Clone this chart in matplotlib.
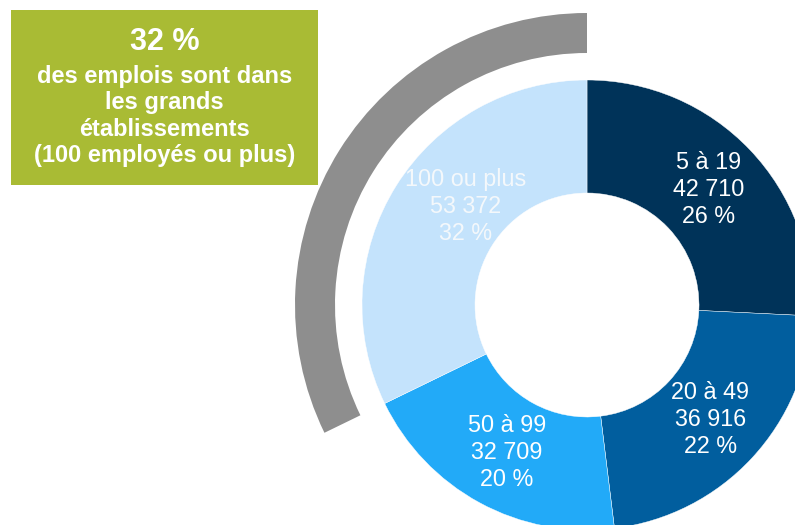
import numpy as np
import matplotlib.pyplot as plt
from matplotlib.patches import Wedge, Rectangle

categories = ['5 à 19', '20 à 49', '50 à 99', '100 ou plus']
jobs = [42710, 36916, 32709, 53372]
shares = [26, 22, 20, 32]
colors = ['#003359', '#015E9E', '#22AAF8', '#C4E3FC']
text_colors = ['white', 'white', 'white', '#F4F8FB']

box_lines = ['32 %', 'des emplois sont dans\nles grands\nétablissements\n(100 employés ou plus)']

W, H = 795, 525
cx, cy = 587, H - 305
r_out, r_in = 225, 112

# label placement tweaks (radius, angle shift) per slice
label_r = [168, 168, 168, 156]
label_shift = [0, 0, 0, -7]

plt.rcParams['font.family'] = ['Liberation Sans', 'DejaVu Sans']

fig = plt.figure(figsize=(W / 100, H / 100), dpi=100)
ax = fig.add_axes([0, 0, 1, 1])

ax.pie(jobs, colors=colors, startangle=90, counterclock=False,
       center=(cx, cy), radius=r_out,
       wedgeprops=dict(width=r_out - r_in, edgecolor='white', linewidth=0.3))

# labels at the middle of each wedge
total = sum(jobs)
start = 90.0
for i, (cat, v, s, tc) in enumerate(zip(categories, jobs, shares, text_colors)):
    span = v / total * 360
    mid = np.radians(start - span / 2 + label_shift[i])
    start -= span
    x = cx + label_r[i] * np.cos(mid)
    y = cy + label_r[i] * np.sin(mid)
    txt = '{}\n{}\n{} %'.format(cat, '{:,}'.format(v).replace(',', ' '), s)
    ax.text(x, y, txt, ha='center', va='center', color=tc, fontsize=16.8,
            linespacing=1.22)

# grey arc over the biggest slice
big = jobs[3] / total * 360
ax.add_patch(Wedge((cx, cy), 292, 90, 90 + big, width=40, color='#8E8E8E', lw=0))

# green call-out box
ax.add_patch(Rectangle((11, H - 185), 307, 175, color='#A9BB34', lw=0))
ax.text(164.5, H - 42, box_lines[0], ha='center', va='center', color='white',
        fontsize=22, fontweight='bold')
ax.text(164.5, H - 116, box_lines[1], ha='center', va='center', color='white',
        fontsize=17, fontweight='bold', linespacing=1.2)

ax.set_xlim(0, W)
ax.set_ylim(0, H)
ax.set_aspect('equal')
ax.axis('off')

fig.savefig('out.png', dpi=100)
